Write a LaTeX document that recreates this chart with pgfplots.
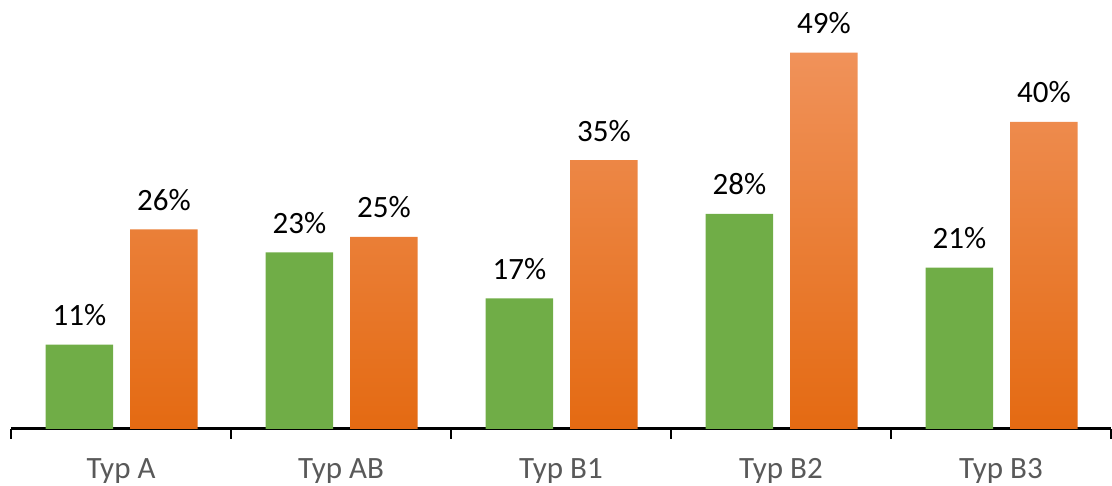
\documentclass[border=0pt]{standalone}
\usepackage{pgfplots}
\pgfplotsset{compat=1.18}
\usepackage{fontspec}
\setmainfont{Carlito}
\definecolor{cgreen}{RGB}{112,173,71}
\definecolor{otop}{RGB}{240,146,90}
\definecolor{omid}{RGB}{245,128,44}
\definecolor{obot}{RGB}{228,106,18}
\definecolor{tickgray}{RGB}{89,89,89}
\begin{document}
\begin{tikzpicture}
\path[use as bounding box] (-11pt,-57pt) rectangle (1101pt,429pt);
\begin{axis}[
  at={(0,0)}, anchor=south west,
  scale only axis, width=1100pt, height=429pt,
  xmin=-0.5, xmax=4.5, ymin=0, ymax=55.86,
  ybar=17pt, bar width=67.5pt,
  axis x line*=bottom, axis y line=none,
  x axis line style={line width=3pt, -},
  xtick={0,1,2,3,4},
  xticklabels={Typ A, Typ AB, Typ B1, Typ B2, Typ B3},
  major x tick style={draw=none},
  major tick length=0pt,
  minor xtick={-0.5,0.5,1.5,2.5,3.5,4.5},
  minor tick length=10pt, tick align=outside,
  minor x tick style={line width=2pt, black},
  xticklabel style={anchor=base, yshift=-50pt, font=\fontsize{31}{37}\selectfont, text=tickgray},
  /pgf/number format/assume math mode=true,
  nodes near coords={\pgfmathprintnumber{\pgfplotspointmeta}\%},
  nodes near coords style={anchor=base, yshift=19pt, inner sep=0pt, font=\fontsize{31}{37}\selectfont, text=black},
  clip=false,
]
\addplot[draw=none, fill=cgreen, bar shift=-41.5pt] coordinates {(0,11) (1,23) (2,17) (3,28) (4,21)};
\addplot[draw=none, top color=otop, middle color=omid, bottom color=obot, bar shift=43pt] coordinates {(0,26) (1,25) (2,35) (3,49) (4,40)};
\end{axis}
\end{tikzpicture}
\end{document}
